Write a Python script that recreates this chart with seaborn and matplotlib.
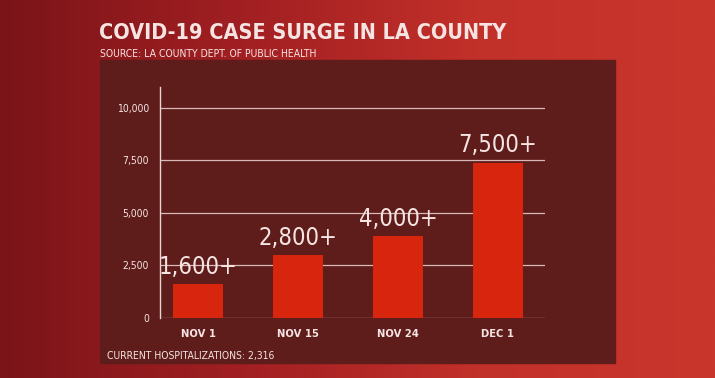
import matplotlib.pyplot as plt
import matplotlib.patches as mpatches
from matplotlib.colors import LinearSegmentedColormap
import numpy as np
import pandas as pd
import seaborn as sns

dates = ['NOV 1', 'NOV 15', 'NOV 24', 'DEC 1']
cases = [1600, 3000, 3900, 7400]
bar_labels = ['1,600+', '2,800+', '4,000+', '7,500+']
y_ticks = [0, 2500, 5000, 7500, 10000]
y_tick_labels = ['0', '2,500', '5,000', '7,500', '10,000']

title = 'COVID-19 CASE SURGE IN LA COUNTY'
source = 'SOURCE: LA COUNTY DEPT. OF PUBLIC HEALTH'
footer = 'CURRENT HOSPITALIZATIONS: 2,316'

sns.set_style('white')
plt.rcParams['font.family'] = ['DejaVu Sans']

txt_col = '#f6e4e2'
bar_col = '#d8260e'
panel_col = '#5e1d1b'

df = pd.DataFrame({'date': dates, 'cases': cases})

fig = plt.figure(figsize=(7.15, 3.78), dpi=100)

# red backdrop, darker on the left
bg = fig.add_axes([0, 0, 1, 1])
grad = np.linspace(0, 1, 256).reshape(1, -1)
cmap = LinearSegmentedColormap.from_list('bg', ['#7a1418', '#a11f22', '#c2302a', '#c9362c'])
bg.imshow(grad, aspect='auto', cmap=cmap, extent=[0, 1, 0, 1])
bg.add_patch(mpatches.Rectangle((0.14, 0.04), 0.72, 0.80, color=panel_col, zorder=2))
bg.set_xlim(0, 1)
bg.set_ylim(0, 1)
bg.axis('off')

ax = fig.add_axes([0.224, 0.159, 0.538, 0.611])
ax.set_facecolor('none')
sns.barplot(data=df, x='date', y='cases', color=bar_col, width=0.5,
            saturation=1, edgecolor='none', linewidth=0, ax=ax, zorder=3)
ax.set_xlim(-0.38, 3.47)
ax.set_ylim(0, 11000)

for y in y_ticks:
    ax.axhline(y, color='#d9b9b6', lw=0.9, zorder=1)

for i, (v, lab) in enumerate(zip(cases, bar_labels)):
    ax.text(i, v + 250, lab, ha='center', va='bottom', color=txt_col,
            fontsize=17, fontstretch='condensed', zorder=4)

ax.set_yticks(y_ticks)
ax.set_yticklabels(y_tick_labels, fontstretch='condensed')
ax.tick_params(axis='y', colors=txt_col, labelsize=7.5, length=0, pad=8)
ax.tick_params(axis='x', colors=txt_col, labelsize=8, length=0, pad=8)
for lab in ax.get_xticklabels():
    lab.set_fontweight('bold')
    lab.set_fontstretch('condensed')
ax.set_xlabel('')
ax.set_ylabel('')
for s in ['top', 'right', 'bottom']:
    ax.spines[s].set_visible(False)
ax.spines['left'].set_color('#e8d4d2')
ax.spines['left'].set_linewidth(1)

fig.text(0.138, 0.885, title, color=txt_col, fontsize=15.5, fontweight='bold',
         fontstretch='condensed', va='bottom', ha='left')
fig.text(0.14, 0.845, source, color=txt_col, fontsize=7.5, fontstretch='condensed',
         va='bottom', ha='left')
fig.text(0.15, 0.045, footer, color=txt_col, fontsize=7.5, fontstretch='condensed',
         va='bottom', ha='left')

fig.savefig('out.png', dpi=100)
